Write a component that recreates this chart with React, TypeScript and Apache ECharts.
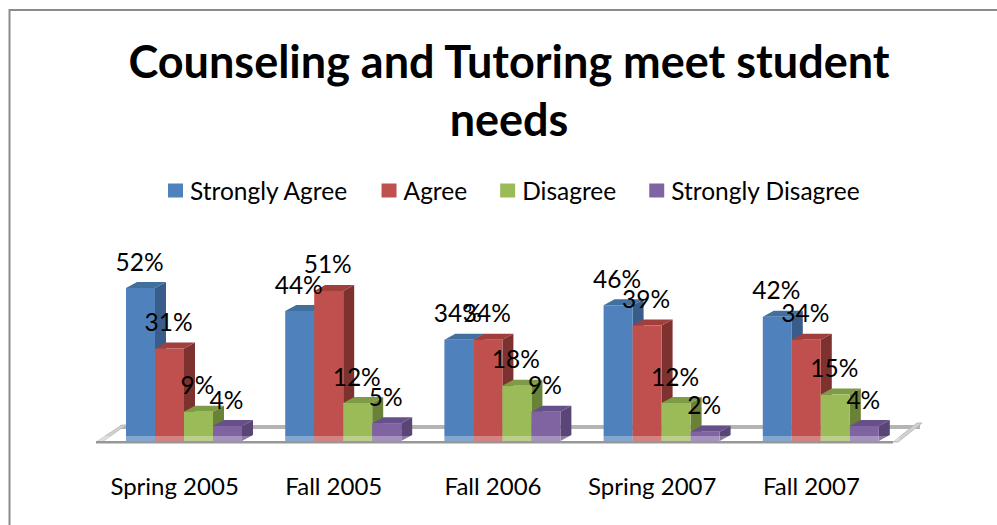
import React, { useEffect, useRef } from "react";
import * as echarts from "echarts";

const categories = ["Spring 2005", "Fall 2005", "Fall 2006", "Spring 2007", "Fall 2007"];
const seriesNames = ["Strongly Agree", "Agree", "Disagree", "Strongly Disagree"];
const stronglyAgree = [52, 44, 34, 46, 42];
const agree = [31, 51, 34, 39, 34];
const disagree = [9, 12, 18, 12, 15];
const stronglyDisagree = [4, 5, 9, 2, 4];
const seriesValues = [stronglyAgree, agree, disagree, stronglyDisagree];
const frontColors = ["#4f81bd", "#c0504d", "#9bbb59", "#8064a2"];
const sideColors = ["#385d8a", "#7d3230", "#6a8238", "#5a4676"];
const topColors = ["#41709f", "#a03f3c", "#7e9b48", "#65508a"];
const titleText = "Counseling and Tutoring meet student\nneeds";
const FONT = "Lato, 'Open Sans', sans-serif";

const DX = 11;
const DY = 6;
const BAR = 29;
const GROUP_PAD = 21;
const DROP = 3.5;

function barRenderer(si: number) {
  return (params: any, api: any) => {
    const cat = api.value(0);
    const val = api.value(1);
    const base = api.coord([cat, 0]);
    const top = api.coord([cat, val]);
    const band = api.size([1, 0])[0];
    const x0 = base[0] - band / 2 + GROUP_PAD + si * BAR;
    const x1 = x0 + BAR;
    const yb = base[1] + DROP;
    const yt = top[1];
    return {
      type: "group",
      children: [
        { type: "polygon", shape: { points: [[x1, yb], [x1, yt], [x1 + DX, yt - DY], [x1 + DX, yb - DY]] }, style: { fill: sideColors[si] } },
        { type: "polygon", shape: { points: [[x0, yt], [x1, yt], [x1 + DX, yt - DY], [x0 + DX, yt - DY]] }, style: { fill: topColors[si] } },
        { type: "rect", shape: { x: x0, y: yt, width: BAR, height: yb - yt }, style: { fill: frontColors[si] } },
      ],
    };
  };
}

function labelRenderer(si: number) {
  return (params: any, api: any) => {
    const cat = api.value(0);
    const val = api.value(1);
    const base = api.coord([cat, 0]);
    const top = api.coord([cat, val]);
    const band = api.size([1, 0])[0];
    const x0 = base[0] - band / 2 + GROUP_PAD + si * BAR;
    return {
      type: "text",
      x: x0 + BAR / 2 - 1,
      y: top[1] - 27,
      style: { text: val + "%", fill: "#000", font: `24.5px ${FONT}`, textAlign: "center", textVerticalAlign: "middle" },
    };
  };
}

function floorRenderer(params: any) {
  const c = params.coordSys;
  const l = c.x;
  const r = c.x + c.width;
  const yb = c.y + c.height + DROP;
  return {
    type: "group",
    children: [
      { type: "rect", shape: { x: l + 15, y: yb - 16, width: c.width + 4, height: 4 }, style: { fill: "#b4b4b4" } },
      { type: "polygon", shape: { points: [[l - 9, yb + 1], [l + 17, yb - 16], [l + 21, yb - 16], [l - 3, yb + 1]] }, style: { fill: "#d2d2d2", stroke: "#bdbdbd", lineWidth: 1 } },
      { type: "polygon", shape: { points: [[r - 8, yb + 1], [r + 16, yb - 18], [r + 21, yb - 18], [r - 3, yb + 1]] }, style: { fill: "#d2d2d2", stroke: "#bdbdbd", lineWidth: 1 } },
    ],
  };
}

function floorFrontRenderer(params: any) {
  const c = params.coordSys;
  const yb = c.y + c.height + DROP;
  return {
    type: "group",
    children: [
      { type: "rect", shape: { x: c.x - 9, y: yb - 5, width: c.width + 7, height: 5 }, style: { fill: "rgba(255,255,255,0.3)" } },
      { type: "rect", shape: { x: c.x - 9, y: yb, width: c.width + 1, height: 2.5 }, style: { fill: "#979797" } },
    ],
  };
}

export default function App() {
  const ref = useRef<HTMLDivElement>(null);
  useEffect(() => {
    document.body.style.margin = "0";
    const chart = echarts.init(ref.current!, undefined, { renderer: "svg" });
    const barSeries = seriesNames.map((name, si) => ({
      type: "custom",
      name,
      z: 3,
      itemStyle: { color: frontColors[si] },
      renderItem: barRenderer(si),
      encode: { x: 0, y: 1 },
      data: seriesValues[si].map((v, i) => [i, v]),
    }));
    const labelSeries = seriesNames.map((name, si) => ({
      type: "custom",
      name: name + " labels",
      z: 5,
      renderItem: labelRenderer(si),
      encode: { x: 0, y: 1 },
      data: seriesValues[si].map((v, i) => [i, v]),
    }));
    chart.setOption({
      animation: false,
      backgroundColor: "#ffffff",
      title: {
        text: titleText,
        textAlign: "center",
        top: 27,
        left: 504,
        textStyle: { fontFamily: FONT, fontWeight: "bold", fontSize: 45, lineHeight: 58, color: "#000" },
      },
      legend: {
        left: 163,
        top: 173,
        data: seriesNames,
        icon: "rect",
        itemWidth: 15,
        itemHeight: 14,
        itemGap: 33,
        selectedMode: false,
        textStyle: { fontFamily: FONT, fontSize: 24.5, color: "#000", padding: [0, 0, 0, 2] },
      },
      grid: { left: 105, width: 796, top: 265, height: 172.5, containLabel: false },
      xAxis: {
        type: "category",
        data: categories,
        axisLine: { show: false },
        axisTick: { show: false },
        axisLabel: { interval: 0, fontFamily: FONT, fontSize: 24, color: "#000", margin: 36, padding: [0, 20, 0, 0] },
      },
      yAxis: { type: "value", min: 0, max: 60, show: false, splitLine: { show: false } },
      graphic: [
        { type: "rect", z: 0, shape: { x: 9.5, y: 10, width: 1200, height: 700 }, style: { fill: "none", stroke: "#8c8c8c", lineWidth: 2 } },
      ],
      series: [
        { type: "custom", name: "floor", z: 1, renderItem: floorRenderer, data: [[0, 0]], encode: { x: 0, y: 1 } },
        ...barSeries,
        { type: "custom", name: "floor front", z: 4, renderItem: floorFrontRenderer, data: [[0, 0]], encode: { x: 0, y: 1 } },
        ...labelSeries,
      ],
    });
    return () => chart.dispose();
  }, []);
  return <div ref={ref} style={{ width: 997, height: 525 }} />;
}
